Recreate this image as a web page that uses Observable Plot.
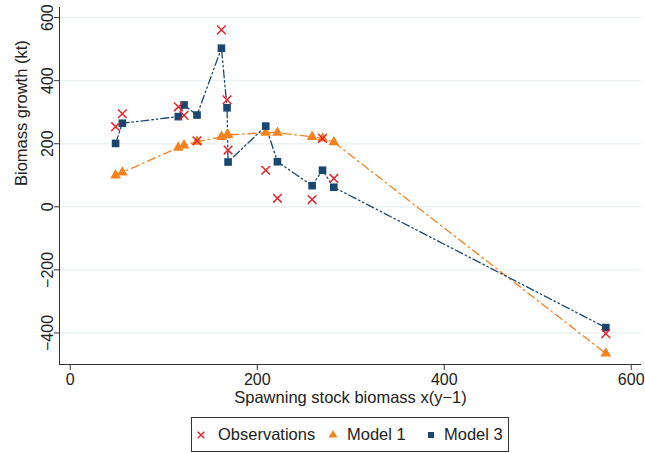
<!DOCTYPE html>
<html><head><meta charset="utf-8">
<script src="https://cdn.jsdelivr.net/npm/d3@7"></script>
<script src="https://cdn.jsdelivr.net/npm/@observablehq/plot@0.6"></script>
<style>
body{margin:0;background:#fff;font-family:"Liberation Sans",Arial,Helvetica,sans-serif;}
#chart{position:relative;width:645px;height:453px;}
.legend{position:absolute;left:191px;top:417px;width:318px;height:35px;box-sizing:border-box;border:1px solid #333;font-size:16.5px;color:#222;}
.legend .item{position:absolute;top:0;height:33px;line-height:33px;white-space:nowrap;}
.legend svg{position:absolute;top:11px;}
</style></head><body><div id="chart"></div>
<script>
// ---- data ----
const ssb          = [48.5, 55.7, 115.6, 121.7, 135.6, 161.7, 167.7, 168.8, 209.1, 221.6, 258.7, 269.8, 281.9, 572.8];
const observations = [254, 295, 317, 290, 209, 561, 339, 180, 116, 27, 23, 217, 90, -402];
const model1       = [100, 109, 188, 195, 207, 222, 227, 228, 235, 235, 222, 217, 205, -465];
const model3       = [201, 265, 286, 323, 291, 503, 314, 142, 256, 143, 67, 116, 62, -383];
const xTicks = [0, 200, 400, 600];
const yTicks = [-400, -200, 0, 200, 400, 600];
const seriesNames = ["Observations", "Model 1", "Model 3"];
const xTitle = "Spawning stock biomass x(y\u22121)";
const yTitle = "Biomass growth (kt)";

// ---- styling ----
const xDomain = [-11.5, 611];
const yDomain = [-500, 632];
const RED = "#e8252b", ORANGE = "#f5821f", NAVY = "#1a476f", AXIS = "#333";
const FONT = '"Liberation Sans", Arial, Helvetica, sans-serif';

const rows = ssb.map((x, i) => ({x, obs: observations[i], m1: model1[i], m3: model3[i]}));

const chart = Plot.plot({
  width: 645, height: 410,
  marginLeft: 59, marginRight: 4, marginTop: 7, marginBottom: 46,
  x: {domain: xDomain},
  y: {domain: yDomain},
  style: {fontFamily: FONT, fontSize: "16px", color: "#222", background: "#fff", overflow: "visible"},
  marks: [
    Plot.gridY(yTicks, {stroke: "#eaf2f3", strokeOpacity: 1, strokeWidth: 1.4}),
    Plot.ruleX([xDomain[0]], {stroke: AXIS, strokeWidth: 1}),
    Plot.ruleY([yDomain[0]], {stroke: AXIS, strokeWidth: 1}),
    Plot.axisX(xTicks, {tickSize: 6, tickPadding: 3, label: null, stroke: AXIS, fill: "#222"}),
    Plot.axisY(yTicks, {tickSize: 5, tickRotate: -90, tickPadding: 2, label: null, stroke: AXIS, fill: "#222"}),
    Plot.line(rows, {x: "x", y: "m1", stroke: ORANGE, strokeWidth: 1.3, strokeDasharray: "8,4,1.5,4"}),
    Plot.line(rows, {x: "x", y: "m3", stroke: NAVY, strokeWidth: 1.3, strokeDasharray: "8,3,1.5,3,1.5,3"}),
    Plot.dot(rows, {x: "x", y: "m1", symbol: "triangle", fill: ORANGE, r: 4}),
    Plot.dot(rows, {x: "x", y: "m3", symbol: "square", fill: NAVY, r: 4.3}),
    Plot.dot(rows, {x: "x", y: "obs", symbol: "times", stroke: RED, strokeWidth: 1.5, r: 4}),
    Plot.text([xTitle], {frameAnchor: "bottom", dy: 38, fontSize: 16.5, fill: "#222"}),
    Plot.text([yTitle], {frameAnchor: "left", rotate: -90, dx: -38, fontSize: 16.5, fill: "#222"})
  ]
});
const root = document.getElementById("chart");
root.appendChild(chart);

// ---- legend ----
const legend = document.createElement("div");
legend.className = "legend";
const items = [
  {name: seriesNames[0], sym: d3.symbolTimes, size: 30, fill: "none", stroke: RED, mx: 9, tx: 26},
  {name: seriesNames[1], sym: d3.symbolTriangle, size: 34, fill: ORANGE, stroke: "none", mx: 141, tx: 155},
  {name: seriesNames[2], sym: d3.symbolSquare, size: 36, fill: NAVY, stroke: "none", mx: 239, tx: 252}
];
for (const it of items) {
  const svg = d3.create("svg").attr("width", 12).attr("height", 12)
    .style("left", (it.mx - 6) + "px");
  svg.append("path").attr("transform", "translate(6,6)")
    .attr("d", d3.symbol(it.sym, it.size)())
    .attr("fill", it.fill).attr("stroke", it.stroke).attr("stroke-width", 1.4);
  legend.appendChild(svg.node());
  const span = document.createElement("span");
  span.className = "item";
  span.style.left = it.tx + "px";
  span.textContent = it.name;
  legend.appendChild(span);
}
root.appendChild(legend);
</script></body></html>
